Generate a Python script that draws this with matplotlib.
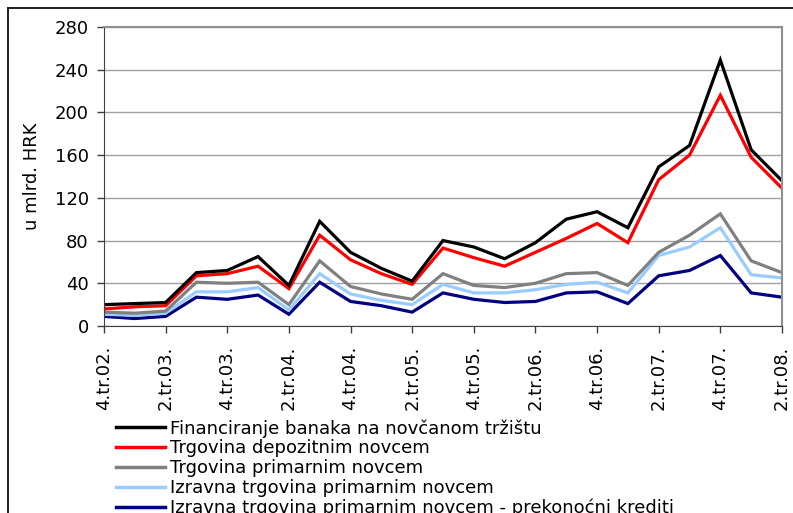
import matplotlib.pyplot as plt
from matplotlib.lines import Line2D

plt.rcParams['font.family'] = ['DejaVu Sans']

# kvartali 4.tr.02. - 2.tr.08.
kvartali = ["4.tr.02."]
for g in range(3, 9):
    for q in range(1, 5):
        if g == 8 and q > 2:
            break
        kvartali.append(f"{q}.tr.0{g}.")

financiranje = [20, 21, 22, 50, 52, 65, 38, 98, 69, 54, 42, 80, 74, 63, 78,
                100, 107, 92, 149, 169, 249, 165, 136]
depozitni = [16, 18, 19, 47, 49, 56, 35, 85, 62, 49, 39, 73, 64, 56, 69,
             82, 96, 78, 137, 160, 216, 158, 129]
primarni = [13, 12, 14, 41, 40, 41, 20, 61, 37, 30, 25, 49, 38, 36, 40,
            49, 50, 38, 69, 85, 105, 61, 50]
izravna = [11, 10, 12, 32, 32, 36, 15, 49, 30, 24, 20, 39, 31, 31, 34,
           39, 41, 31, 66, 74, 92, 48, 45]
prekonocni = [9, 7, 9, 27, 25, 29, 11, 41, 23, 19, 13, 31, 25, 22, 23,
              31, 32, 21, 47, 52, 66, 31, 27]

serije = [
    ("Financiranje banaka na novčanom tržištu", financiranje, "#000000"),
    ("Trgovina depozitnim novcem", depozitni, "#FF0000"),
    ("Trgovina primarnim novcem", primarni, "#808080"),
    ("Izravna trgovina primarnim novcem", izravna, "#99CCFF"),
    ("Izravna trgovina primarnim novcem - prekonoćni krediti", prekonocni, "#000080"),
]

fig = plt.figure(figsize=(7.93, 5.13), dpi=100)
ax = fig.add_axes([0.1311, 0.3645, 0.855, 0.583])

x = list(range(len(kvartali)))
# crtanje od donje prema gornjoj seriji
for naziv, vrijednosti, boja in reversed(serije):
    ax.plot(x, vrijednosti, color=boja, lw=2.3, solid_joinstyle='miter')

ax.set_xlim(0, len(kvartali) - 1)
ax.set_ylim(0, 280)
ax.set_yticks(range(0, 281, 40))
ax.set_xticks(x[::2])
ax.set_xticklabels(kvartali[::2], rotation=90, fontsize=13)
ax.tick_params(axis='y', labelsize=13, length=5, width=1, color='#404040', pad=6)
ax.tick_params(axis='x', length=5, width=1, color='#404040', pad=9)
ax.grid(axis='y', color='#a0a0a0', lw=1)
ax.set_axisbelow(True)
for s in ['top', 'right']:
    ax.spines[s].set_color('#909090')
    ax.spines[s].set_linewidth(1.5)
ax.spines['left'].set_color('#404040')
ax.spines['bottom'].set_color('#404040')
ax.set_ylabel("u mlrd. HRK", fontsize=13, labelpad=10)

# okvir slike
fig.add_artist(Line2D([8 / 793, 8 / 793], [0, 1 - 8 / 513], color='#202020', lw=1.4))
fig.add_artist(Line2D([8 / 793, 1], [1 - 8 / 513, 1 - 8 / 513], color='#202020', lw=1.4))

rucke = [Line2D([], [], color=b, lw=2.5) for _, _, b in serije]
fig.legend(rucke, [n for n, _, _ in serije], loc='upper left',
           bbox_to_anchor=(116 / 793, 1 - 419 / 513), frameon=False,
           fontsize=13, handlelength=2.7, handletextpad=0.3,
           labelspacing=0.1, borderpad=0, borderaxespad=0)

fig.savefig("out.png", dpi=100)
